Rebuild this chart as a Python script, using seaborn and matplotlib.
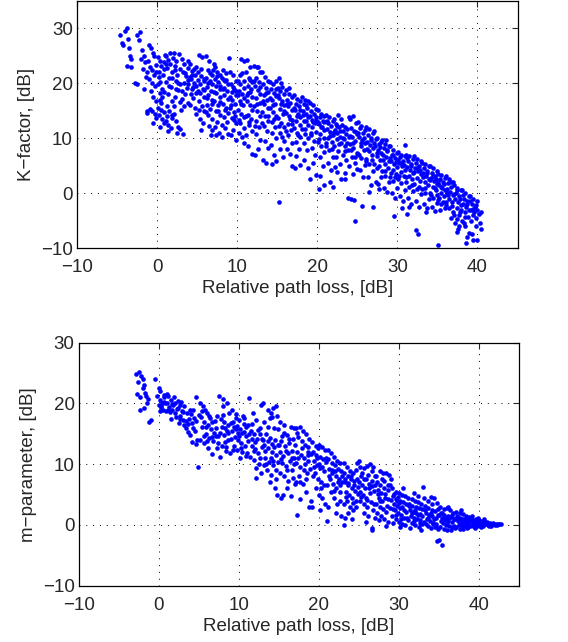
import matplotlib
matplotlib.use("Agg")
import matplotlib.pyplot as plt
import seaborn as sns

# K-factor vs relative path loss (x, y)
kfactor_pts = [
    (-4.6, 28.8), (-4.4, 27.4), (-4.2, 27.0), (-4.0, 29.5), (-3.8, 30.1), (-3.6, 28.0), (-3.5, 26.5), (-3.4, 25.0),
    (-3.7, 23.1), (-3.3, 24.5), (-3.2, 22.9), (-2.8, 20.0), (-2.5, 19.8), (-2.5, 28.9), (-2.1, 29.3), (-2.2, 27.9),
    (-1.9, 26.0), (-1.6, 25.0), (-2.0, 24.5), (-1.5, 23.8), (-1.2, 22.0), (-1.3, 15.0), (-1.2, 14.6), (-1.8, 22.6),
    (-1.0, 27.0), (-0.8, 26.5), (-0.5, 25.6), (-1.1, 24.0), (-0.9, 23.0), (-0.6, 22.4), (-0.4, 21.5), (-1.0, 20.8),
    (-0.7, 20.0), (-0.3, 19.5), (-0.8, 18.6), (-0.5, 17.5), (-0.2, 16.8), (-0.9, 15.3), (-0.6, 15.0), (-0.3, 14.5),
    (-0.1, 13.7), (-0.5, 12.8), (-1.4, 21.2), (-1.6, 19.0), (-0.2, 23.3), (-0.1, 22.0), (-0.4, 25.0),
    (0.1, 24.8), (0.3, 24.0), (0.5, 23.2), (0.2, 22.0), (0.7, 21.5), (0.4, 20.3), (0.1, 19.8), (0.6, 19.0),
    (0.9, 18.5), (0.3, 17.0), (0.1, 15.5), (0.5, 15.2), (0.8, 14.8), (0.2, 14.2), (0.6, 13.5), (0.9, 12.7),
    (0.4, 12.0), (0.8, 22.7), (0.95, 25.2), (0.35, 18.2),
    (1.1, 25.0), (1.3, 24.3), (1.6, 23.5), (1.2, 22.8), (1.8, 22.0), (1.5, 21.0), (1.1, 20.2), (1.7, 19.3),
    (1.4, 18.0), (1.9, 16.8), (1.2, 15.8), (1.5, 15.0), (1.8, 14.3), (1.1, 13.2), (1.4, 12.5), (1.7, 11.9),
    (1.3, 11.3), (1.9, 13.6), (1.6, 25.6), (1.95, 24.6),
    (2.1, 25.5), (2.4, 24.0), (2.7, 25.3), (2.2, 23.2), (2.8, 22.6), (2.5, 21.6), (2.3, 20.5), (2.9, 19.8),
    (2.6, 18.8), (2.2, 17.5), (2.8, 16.6), (2.1, 14.5), (2.4, 13.2), (2.6, 12.0), (2.5, 11.0), (2.9, 11.6),
    (2.3, 19.0),
    (3.1, 24.5), (3.4, 23.6), (3.8, 24.0), (3.2, 22.0), (3.6, 21.3), (3.9, 20.6), (3.3, 20.0), (3.7, 19.2),
    (3.5, 18.0), (3.1, 17.1), (3.8, 16.5), (3.4, 15.8), (3.2, 10.7), (3.9, 22.8), (3.0, 15.2),
    (4.1, 23.5), (4.4, 22.2), (4.7, 21.5), (4.2, 20.8), (4.6, 20.0), (4.9, 19.5), (4.3, 19.0), (4.8, 18.2),
    (4.5, 17.3), (4.1, 16.0), (4.7, 15.6), (4.9, 14.4), (4.4, 21.6), (4.8, 23.0),
    (5.2, 25.1), (5.6, 24.8), (5.1, 22.0), (5.5, 21.3), (5.8, 20.5), (5.3, 19.8), (5.7, 19.0), (5.4, 18.3),
    (5.9, 17.5), (5.2, 16.8), (5.6, 15.8), (5.9, 14.9), (5.3, 13.5), (5.7, 12.8), (5.5, 11.5), (5.8, 20.8),
    (5.1, 18.6),
    (6.1, 24.9), (6.5, 24.0), (6.3, 22.4), (6.8, 21.6), (6.1, 21.0), (6.6, 20.5), (6.9, 19.8), (6.2, 19.3),
    (6.7, 18.6), (6.4, 17.8), (6.9, 17.0), (6.2, 16.0), (6.6, 15.3), (6.3, 14.2), (6.8, 13.5), (6.5, 12.3),
    (6.9, 11.5), (6.7, 10.5), (6.4, 20.0), (6.95, 22.5),
    (7.1, 23.5), (7.5, 22.0), (7.9, 21.5), (7.2, 20.8), (7.6, 20.2), (7.3, 19.5), (7.8, 18.9), (7.4, 18.2),
    (7.9, 17.6), (7.1, 16.8), (7.6, 16.0), (7.3, 15.0), (7.8, 14.2), (7.5, 13.0), (7.2, 12.0), (7.7, 11.0),
    (7.4, 10.6), (7.9, 19.6),
    (8.2, 22.5), (8.6, 21.8), (8.1, 21.0), (8.5, 20.4), (8.9, 19.9), (8.3, 19.2), (8.7, 18.6), (8.4, 17.8),
    (8.8, 17.1), (8.2, 16.3), (8.6, 15.5), (8.9, 14.6), (8.3, 13.8), (8.7, 12.9), (8.5, 11.8), (8.8, 10.8),
    (8.1, 10.2), (8.95, 24.6), (8.4, 20.6),
    (9.1, 22.0), (9.5, 21.5), (9.8, 20.5), (9.2, 19.8), (9.6, 19.0), (9.3, 18.4), (9.9, 17.8), (9.4, 17.0),
    (9.7, 16.2), (9.1, 15.5), (9.6, 14.7), (9.3, 13.6), (9.8, 12.8), (9.5, 11.5), (9.2, 10.5), (9.9, 9.7),
    (9.7, 14.0),
    (10.1, 20.5), (10.4, 19.8), (10.8, 19.2), (10.2, 18.6), (10.6, 18.0), (10.9, 17.4), (10.3, 16.8), (10.7, 16.0),
    (10.1, 15.2), (10.5, 14.5), (10.9, 13.8), (10.4, 12.7), (10.8, 11.8), (10.2, 11.0), (10.6, 10.2), (10.9, 9.2),
    (10.5, 24.5), (10.9, 24.0), (10.3, 21.5),
    (11.2, 24.2), (11.6, 23.0), (11.1, 22.0), (11.5, 21.0), (11.8, 20.2), (11.3, 19.6), (11.7, 19.0), (11.4, 18.2),
    (11.9, 17.5), (11.2, 16.8), (11.6, 16.0), (11.9, 15.2), (11.3, 14.3), (11.7, 13.5), (11.5, 12.5), (11.8, 11.4),
    (11.1, 10.5), (11.4, 8.5), (11.9, 7.2), (11.6, 20.6),
    (12.1, 23.2), (12.5, 22.9), (12.8, 22.1), (12.3, 21.0), (12.7, 20.3), (12.2, 19.5), (12.6, 18.8), (12.9, 18.0),
    (12.4, 17.3), (12.8, 16.5), (12.1, 15.8), (12.5, 15.0), (12.9, 14.1), (12.3, 13.2), (12.7, 12.0), (12.4, 10.8),
    (12.8, 9.6), (12.2, 7.0), (12.6, 8.0),
    (13.1, 22.0), (13.5, 21.2), (13.8, 20.5), (13.2, 19.8), (13.6, 19.1), (13.9, 18.5), (13.3, 17.8), (13.7, 17.0),
    (13.4, 16.2), (13.8, 15.5), (13.1, 14.8), (13.5, 14.0), (13.9, 13.2), (13.3, 12.2), (13.7, 11.3), (13.5, 9.5),
    (13.2, 6.0), (13.9, 8.3), (13.6, 5.5),
    (14.1, 20.2), (14.5, 19.8), (14.8, 20.4), (14.2, 19.0), (14.6, 18.3), (14.9, 17.7), (14.3, 17.0), (14.7, 16.2),
    (14.1, 15.5), (14.5, 14.8), (14.9, 14.0), (14.3, 13.0), (14.7, 12.1), (14.4, 11.0), (14.8, 10.0), (14.2, 8.8),
    (14.6, 7.0), (14.4, 5.3), (14.9, 5.8),
    (15.2, 21.0), (15.5, 20.0), (15.1, 19.2), (15.4, 18.6), (15.8, 18.0), (15.2, 17.3), (15.6, 16.7), (15.9, 16.0),
    (15.3, 15.3), (15.7, 14.5), (15.1, 13.6), (15.5, 12.8), (15.9, 12.0), (15.4, 11.0), (15.8, 9.5), (15.3, 8.0),
    (15.7, 6.5), (15.2, -1.7), (15.6, 10.2),
    (16.1, 18.8), (16.5, 18.0), (16.9, 17.5), (16.2, 17.0), (16.6, 16.5), (16.3, 15.8), (16.8, 15.2), (16.1, 14.6),
    (16.5, 14.0), (16.9, 13.4), (16.3, 12.6), (16.7, 11.5), (16.4, 10.5), (16.8, 9.2), (16.2, 8.0), (16.6, 7.1),
    (16.9, 5.0),
    (17.1, 17.8), (17.5, 17.2), (17.9, 16.8), (17.3, 16.3), (17.7, 15.8), (17.2, 15.1), (17.6, 14.5), (17.9, 13.9),
    (17.4, 13.2), (17.8, 12.5), (17.1, 11.8), (17.5, 11.0), (17.9, 10.2), (17.3, 9.3), (17.7, 8.0), (17.4, 6.8),
    (17.8, 5.2), (17.2, 4.5),
    (18.1, 17.5), (18.5, 17.0), (18.9, 16.8), (18.3, 16.2), (18.7, 15.6), (18.2, 15.0), (18.6, 14.5), (18.9, 13.8),
    (18.4, 13.2), (18.8, 12.4), (18.1, 11.7), (18.5, 10.8), (18.9, 10.0), (18.3, 9.1), (18.7, 7.8), (18.4, 6.0),
    (18.9, 4.5), (18.6, 16.0),
    (19.1, 16.5), (19.5, 16.0), (19.8, 15.4), (19.2, 15.0), (19.6, 14.4), (19.9, 13.9), (19.3, 13.3), (19.7, 12.7),
    (19.4, 12.0), (19.8, 11.2), (19.2, 10.5), (19.6, 9.5), (19.3, 8.2), (19.7, 7.0), (19.5, 5.5), (19.9, 3.3),
    (19.1, 2.5),
    (20.1, 15.2), (20.5, 14.5), (20.9, 14.1), (20.3, 13.8), (20.7, 13.2), (20.2, 12.6), (20.6, 12.0), (20.9, 11.5),
    (20.4, 10.8), (20.8, 10.0), (20.1, 9.3), (20.5, 8.5), (20.9, 7.5), (20.3, 6.5), (20.7, 5.0), (20.4, 3.2),
    (20.8, 1.5), (20.2, 0.7),
    (21.1, 14.2), (21.5, 13.8), (21.9, 13.2), (21.3, 12.8), (21.7, 12.3), (21.2, 11.7), (21.6, 11.2), (21.9, 10.6),
    (21.4, 10.0), (21.8, 9.3), (21.1, 8.6), (21.5, 7.8), (21.9, 6.5), (21.3, 5.5), (21.7, 4.2), (21.6, 2.0),
    (21.9, 1.2),
    (22.1, 13.5), (22.6, 14.3), (22.9, 13.5), (22.3, 12.6), (22.7, 12.0), (22.2, 11.5), (22.5, 10.9), (22.8, 10.3),
    (22.4, 9.8), (22.9, 9.1), (22.1, 8.5), (22.6, 7.7), (22.3, 6.5), (22.8, 5.3), (22.5, 3.8), (22.9, 2.5),
    (22.2, 4.7),
    (23.1, 12.5), (23.5, 12.0), (23.9, 13.8), (23.2, 11.4), (23.6, 10.8), (23.9, 10.3), (23.3, 9.8), (23.7, 9.2),
    (23.4, 8.5), (23.8, 7.8), (23.2, 7.0), (23.6, 6.0), (23.9, 5.0), (23.4, 3.7), (23.8, -0.8), (23.5, 2.5),
    (24.1, 13.5), (24.4, 14.0), (24.8, 12.8), (24.2, 11.9), (24.6, 11.3), (24.9, 10.7), (24.3, 10.2), (24.7, 9.5),
    (24.1, 8.9), (24.5, 8.2), (24.9, 7.4), (24.3, 6.5), (24.7, 5.5), (24.5, 3.5), (24.2, -1.0), (24.6, -1.2),
    (24.7, -5.0), (24.9, 4.4),
    (25.1, 13.0), (25.5, 12.2), (25.9, 11.5), (25.3, 11.8), (25.7, 10.9), (25.2, 10.3), (25.6, 9.7), (25.9, 9.1),
    (25.4, 8.6), (25.8, 7.9), (25.1, 7.2), (25.5, 6.4), (25.9, 5.2), (25.3, 4.2), (25.7, 3.0), (25.6, -2.3),
    (26.1, 12.0), (26.5, 11.6), (26.9, 11.0), (26.3, 10.5), (26.7, 10.0), (26.2, 9.4), (26.6, 8.8), (26.9, 8.2),
    (26.4, 7.7), (26.8, 7.0), (26.1, 6.2), (26.5, 5.3), (26.9, 4.0), (26.3, 3.0), (26.7, 1.5), (26.4, 0.2),
    (26.9, -2.5),
    (27.1, 11.3), (27.5, 10.0), (27.9, 9.4), (27.3, 9.8), (27.7, 9.0), (27.2, 8.5), (27.6, 7.9), (27.9, 7.3),
    (27.4, 6.8), (27.8, 6.0), (27.1, 5.3), (27.5, 4.5), (27.9, 3.0), (27.3, 2.0), (27.7, 0.8), (27.6, 1.6),
    (28.1, 9.6), (28.5, 9.0), (28.9, 8.5), (28.3, 8.2), (28.7, 7.6), (28.2, 7.0), (28.6, 6.5), (28.9, 5.9),
    (28.4, 5.3), (28.8, 4.6), (28.1, 4.0), (28.5, 3.2), (28.9, 2.0), (28.3, 1.0), (28.7, 0.2), (28.6, 9.7),
    (29.1, 8.5), (29.5, 7.8), (29.9, 7.3), (29.3, 7.0), (29.7, 6.4), (29.2, 5.8), (29.6, 5.3), (29.9, 4.7),
    (29.4, 4.2), (29.8, 3.5), (29.1, 3.0), (29.5, 2.2), (29.9, 1.0), (29.3, 0.0), (29.7, -0.8), (29.6, -4.2),
    (30.1, 7.5), (30.5, 7.0), (30.9, 6.8), (30.3, 6.5), (30.7, 5.9), (30.2, 5.4), (30.6, 4.9), (30.9, 4.3),
    (30.4, 3.8), (30.8, 3.2), (30.1, 2.6), (30.5, 1.8), (30.9, 0.5), (30.3, -0.5), (30.7, -1.5), (30.6, -2.8),
    (30.9, 8.8),
    (31.1, 7.0), (31.5, 6.7), (31.9, 6.2), (31.3, 5.9), (31.7, 5.3), (31.2, 4.8), (31.6, 4.3), (31.9, 3.7),
    (31.4, 3.2), (31.8, 2.6), (31.1, 2.0), (31.5, 1.2), (31.9, 0.3), (31.3, -0.8), (31.7, -2.0), (31.2, -3.8),
    (31.5, -2.5),
    (32.1, 6.8), (32.5, 6.3), (32.9, 5.9), (32.3, 5.5), (32.7, 5.0), (32.2, 4.5), (32.6, 4.0), (32.9, 3.4),
    (32.4, 2.8), (32.8, 2.2), (32.1, 1.6), (32.5, 0.8), (32.9, -0.2), (32.3, -1.5), (32.7, -2.5), (32.3, -6.8),
    (32.6, -7.5),
    (33.1, 5.5), (33.5, 5.3), (33.9, 5.0), (33.3, 4.6), (33.7, 4.1), (33.2, 3.6), (33.6, 3.1), (33.9, 2.6),
    (33.4, 2.0), (33.8, 1.4), (33.1, 0.8), (33.5, 0.0), (33.9, -1.0), (33.3, -2.0), (33.7, -2.8), (33.6, -3.5),
    (34.1, 5.0), (34.5, 4.5), (34.9, 4.0), (34.3, 3.7), (34.7, 3.2), (34.2, 2.7), (34.6, 2.2), (34.9, 1.7),
    (34.4, 1.2), (34.8, 0.6), (34.1, 0.0), (34.5, -0.8), (34.9, -1.8), (34.3, -2.5), (34.7, -3.2), (34.9, -0.3),
    (35.1, 3.5), (35.5, 3.3), (35.9, 2.8), (35.3, 2.5), (35.7, 2.0), (35.2, 1.5), (35.6, 1.0), (35.9, 0.5),
    (35.4, 0.0), (35.8, -0.6), (35.1, -1.2), (35.5, -2.0), (35.9, -2.7), (35.3, -3.0), (35.1, -9.4), (35.7, -1.6),
    (36.1, 3.2), (36.5, 2.5), (36.9, 2.0), (36.3, 1.8), (36.7, 1.2), (36.2, 0.8), (36.6, 0.2), (36.9, -0.4),
    (36.4, -1.0), (36.8, -1.6), (36.1, -2.2), (36.5, -2.8), (36.9, -3.5), (36.7, -4.5), (36.3, -0.3),
    (37.1, 1.5), (37.5, 1.0), (37.9, 0.5), (37.3, 0.0), (37.7, -0.5), (37.2, -1.0), (37.6, -1.6), (37.9, -2.2),
    (37.4, -2.8), (37.8, -3.4), (37.1, -4.0), (37.5, -4.8), (37.2, -5.5), (37.7, -6.0), (37.4, -7.0), (37.6, -6.5),
    (37.9, -3.0),
    (38.1, 0.5), (38.5, 0.0), (38.9, -0.5), (38.3, -1.0), (38.7, -1.5), (38.2, -2.0), (38.6, -2.5), (38.9, -3.0),
    (38.4, -3.5), (38.8, -4.3), (38.1, -5.0), (38.5, -6.0), (38.9, -7.3), (38.7, -8.0), (38.6, -9.0), (38.3, -5.5),
    (39.1, -0.5), (39.5, -1.0), (39.9, -1.5), (39.3, -2.0), (39.7, -2.5), (39.2, -3.0), (39.6, -3.5), (40.0, -3.0),
    (39.4, -4.0), (39.8, -4.5), (40.2, -3.8), (40.5, -3.4), (40.3, -5.5), (40.4, -6.5), (39.5, -8.5), (39.9, -8.6),
    (39.3, -7.5), (39.8, -6.0),
    # denser core of the band
    (0.25, 21.2), (0.65, 17.6), (1.05, 23.6), (1.45, 19.6), (1.85, 20.9), (2.25, 22.4), (2.65, 20.1), (3.05, 18.6),
    (3.45, 21.9), (3.85, 19.9), (4.25, 18.1), (4.65, 22.7), (0.45, 16.4), (1.25, 14.1), (2.05, 15.9), (0.85, 23.9),
    (4.05, 21.1), (4.45, 19.4),
    (5.05, 20.6), (5.45, 22.6), (5.85, 18.8), (6.25, 17.4), (6.65, 21.9), (7.05, 18.4), (7.45, 21.3), (7.85, 16.6),
    (8.25, 18.9), (8.65, 20.6), (9.05, 17.5), (9.45, 19.4), (9.85, 18.6), (5.25, 15.1), (6.05, 14.8), (6.85, 16.3),
    (7.65, 14.9), (8.45, 15.1), (9.25, 16.1), (9.65, 13.3), (8.05, 12.4), (7.25, 22.9),
    (10.05, 17.9), (10.45, 16.2), (10.85, 20.4), (11.25, 17.9), (11.65, 18.4), (12.05, 20.5), (12.45, 16.3),
    (12.85, 19.4), (13.25, 16.7), (13.65, 18.2), (14.05, 17.4), (14.45, 16.1), (14.85, 18.9), (10.25, 13.4),
    (11.05, 14.0), (11.45, 12.9), (12.25, 12.2), (13.05, 12.8), (13.85, 14.1), (14.65, 13.5), (10.65, 21.9),
    (12.65, 23.0),
    (15.05, 17.9), (15.45, 16.2), (15.85, 14.9), (16.25, 16.2), (16.65, 13.5), (17.05, 15.6), (17.45, 14.1),
    (17.85, 15.1), (18.25, 14.3), (18.65, 13.1), (19.05, 14.1), (19.45, 12.9), (19.85, 13.4), (15.25, 12.3),
    (16.05, 11.4), (16.85, 12.6), (17.65, 10.6), (18.45, 11.6), (19.25, 10.9), (15.65, 19.4), (16.45, 19.1),
    (20.05, 12.9), (20.45, 12.1), (20.85, 12.9), (21.25, 13.1), (21.65, 10.4), (22.05, 11.1), (22.45, 12.2),
    (22.85, 11.4), (23.25, 10.1), (23.65, 11.6), (24.05, 10.4), (24.45, 9.1), (24.85, 11.1), (20.25, 9.9),
    (21.05, 9.1), (21.85, 8.1), (22.65, 8.9), (23.45, 7.6), (24.25, 7.9), (24.65, 6.6),
    (25.05, 10.9), (25.45, 9.1), (25.85, 10.1), (26.25, 8.1), (26.65, 9.6), (27.05, 9.1), (27.45, 7.4), (27.85, 8.4),
    (28.25, 6.1), (28.65, 7.9), (29.05, 6.4), (29.45, 6.9), (29.85, 5.6), (25.25, 6.9), (26.05, 5.9), (26.85, 6.1),
    (27.65, 4.9), (28.45, 4.1), (29.25, 3.6), (29.65, 2.9),
    (30.05, 6.1), (30.45, 5.4), (30.85, 5.1), (31.25, 6.4), (31.65, 4.9), (32.05, 3.9), (32.45, 4.6), (32.85, 4.3),
    (33.25, 2.9), (33.65, 3.6), (34.05, 2.4), (34.45, 3.1), (34.85, 2.6), (30.25, 3.1), (31.05, 2.9), (31.85, 1.4),
    (32.65, 1.1), (33.45, 0.9), (34.25, -0.4), (34.65, 0.9),
    (35.05, 2.1), (35.45, 1.1), (35.85, 1.6), (36.25, 0.1), (36.65, 2.1), (37.05, -0.1), (37.45, 0.6), (37.85, -1.1),
    (38.25, -0.4), (38.65, -1.9), (39.05, -1.4), (39.45, -2.9), (39.85, -2.1), (35.25, -0.9), (36.05, -1.6),
    (36.85, -2.4), (37.65, -3.9), (38.45, -4.4), (39.25, -5.1),
]

# m-parameter vs relative path loss (x, y)
mparam_pts = [
    (-2.8, 24.8), (-2.5, 25.1), (-2.2, 24.6), (-2.0, 24.0), (-2.6, 23.5), (-2.7, 21.6), (-2.3, 21.0), (-2.0, 22.5),
    (-1.8, 23.0), (-1.6, 21.2), (-1.5, 20.0), (-1.9, 19.2), (-2.3, 19.0), (-1.2, 17.0), (-1.0, 17.2), (-1.7, 21.8),
    (-0.5, 24.0), (-1.4, 20.8),
    (0.0, 22.6), (0.1, 22.0), (-0.2, 21.2), (0.2, 20.6), (0.4, 20.1), (0.0, 19.8), (0.3, 19.4), (0.6, 20.3),
    (0.8, 20.0), (0.5, 19.0), (0.9, 18.8), (0.2, 18.7), (0.7, 21.4), (1.0, 21.5),
    (1.2, 21.2), (1.5, 20.5), (1.8, 19.8), (1.3, 19.4), (1.7, 18.9), (2.0, 18.5), (2.4, 19.3), (2.8, 20.3),
    (2.2, 17.8), (2.6, 18.0), (1.5, 17.5), (2.9, 18.7), (2.5, 16.8), (2.0, 20.0), (1.1, 19.0), (2.7, 19.8),
    (3.2, 19.5), (3.5, 18.4), (3.8, 17.5), (3.1, 16.5), (3.4, 16.0), (3.7, 15.3), (4.0, 18.2), (4.3, 19.0),
    (4.6, 21.0), (4.2, 16.8), (4.5, 15.5), (4.8, 14.0), (4.1, 13.6), (4.7, 13.3), (4.9, 9.5), (3.9, 14.8),
    (3.0, 17.2), (4.4, 17.6),
    (5.2, 20.1), (5.5, 19.5), (5.8, 19.0), (6.0, 18.5), (5.3, 17.8), (5.7, 17.0), (6.2, 16.5), (6.5, 15.8),
    (5.9, 15.0), (6.3, 14.3), (6.8, 13.8), (5.6, 13.5), (6.1, 12.7), (6.6, 11.6), (6.9, 15.2), (5.4, 16.2),
    (6.4, 17.6), (6.7, 14.4), (5.1, 14.0),
    (7.5, 21.2), (8.0, 20.8), (8.5, 20.0), (7.3, 18.0), (7.8, 17.5), (8.2, 17.0), (8.7, 16.5), (7.2, 16.0),
    (7.6, 15.2), (8.1, 14.8), (8.6, 14.0), (7.4, 13.5), (7.9, 13.0), (8.4, 12.2), (8.9, 11.8), (7.7, 11.2),
    (8.3, 16.0), (8.8, 18.5), (8.0, 19.5), (8.5, 15.5), (7.1, 14.6),
    (9.2, 19.0), (9.6, 18.3), (10.0, 17.2), (10.5, 18.0), (9.3, 17.0), (9.8, 16.3), (10.2, 15.8), (10.7, 15.3),
    (9.1, 15.5), (9.5, 14.5), (9.9, 14.0), (10.3, 13.5), (10.8, 13.0), (9.4, 13.0), (9.8, 12.3), (10.4, 12.0),
    (10.9, 11.4), (10.1, 11.0), (9.6, 15.8), (10.6, 16.6), (10.9, 14.7), (9.0, 16.7),
    (11.3, 20.9), (11.8, 18.5), (12.2, 17.3), (12.8, 19.8), (13.0, 20.0), (11.1, 16.5), (11.5, 15.5), (11.9, 15.0),
    (12.3, 14.2), (12.7, 16.0), (11.2, 13.8), (11.6, 13.0), (12.0, 12.5), (12.4, 11.8), (12.9, 12.8), (11.4, 11.2),
    (11.9, 10.7), (12.5, 10.0), (12.1, 9.3), (12.2, 7.7), (12.8, 8.5), (11.7, 14.2), (12.6, 15.0), (13.0, 14.0),
    (13.6, 19.0), (14.0, 18.5), (14.3, 19.2), (14.6, 19.5), (14.2, 17.8), (14.8, 18.0), (13.2, 17.0), (13.7, 16.2),
    (14.4, 16.0), (14.9, 15.8), (13.4, 15.0), (13.9, 14.3), (14.5, 14.0), (13.1, 13.2), (13.6, 12.6), (14.1, 12.0),
    (14.7, 11.5), (13.3, 11.0), (13.8, 10.3), (14.3, 9.8), (14.9, 10.4), (13.5, 9.0), (14.0, 8.2), (14.6, 7.5),
    (13.9, 7.0), (14.5, 6.0), (14.8, 5.0), (14.2, 13.3), (13.1, 9.8),
    (15.2, 17.0), (15.6, 15.2), (16.0, 14.8), (16.5, 16.2), (16.9, 16.0), (15.3, 13.8), (15.8, 13.0), (16.3, 13.5),
    (16.8, 14.2), (15.1, 12.0), (15.5, 11.4), (16.1, 11.8), (16.6, 12.2), (15.4, 10.2), (15.9, 9.7), (16.4, 10.5),
    (16.9, 11.0), (15.2, 8.5), (15.7, 8.0), (16.2, 7.2), (16.7, 9.0), (15.5, 5.0), (16.0, 6.0), (16.5, 4.8),
    (17.0, 6.8), (15.3, 4.5), (17.3, 1.6), (16.8, 7.8),
    (17.2, 16.0), (17.6, 16.2), (18.0, 15.5), (18.4, 15.0), (18.8, 14.2), (17.4, 14.5), (17.9, 13.8), (18.3, 13.2),
    (18.7, 12.8), (17.3, 12.0), (17.8, 11.5), (18.2, 11.0), (18.6, 11.5), (17.1, 10.2), (17.6, 9.6), (18.1, 9.0),
    (18.5, 8.5), (18.9, 9.2), (17.5, 8.0), (18.0, 6.7), (18.4, 5.5), (17.7, 4.3), (18.8, 3.0), (17.2, 7.0),
    (18.6, 12.0), (19.0, 4.0),
    (19.2, 13.7), (19.6, 13.0), (20.0, 13.2), (20.4, 12.8), (20.8, 12.4), (19.3, 12.0), (19.7, 11.5), (20.1, 11.2),
    (20.5, 10.8), (20.9, 10.4), (19.4, 10.5), (19.8, 9.8), (20.2, 9.3), (20.6, 8.9), (19.5, 8.5), (19.9, 7.5),
    (20.3, 7.0), (20.7, 6.5), (19.6, 6.0), (20.0, 5.0), (20.4, 4.5), (20.8, 3.5), (19.1, 3.0), (21.0, 0.6),
    (20.2, 2.5), (19.8, 11.0),
    (21.1, 12.3), (21.5, 11.8), (21.9, 11.2), (22.3, 10.6), (22.7, 10.2), (21.2, 10.8), (21.6, 10.2), (22.0, 9.8),
    (22.4, 9.2), (22.8, 8.8), (21.3, 9.2), (21.7, 8.6), (22.1, 8.0), (22.5, 7.5), (22.9, 7.0), (21.4, 7.5),
    (21.8, 6.8), (22.2, 6.0), (22.6, 5.5), (21.5, 5.5), (21.9, 4.5), (22.3, 3.5), (22.7, 4.0), (21.2, 3.0),
    (22.1, 2.0), (22.8, 1.5), (23.2, 0.0), (23.3, 1.2),
    (23.1, 10.2), (23.5, 9.6), (23.9, 8.8), (24.3, 8.5), (24.8, 10.2), (25.0, 10.6), (23.2, 8.5), (23.6, 8.0),
    (24.0, 7.5), (24.4, 7.2), (24.8, 7.6), (23.3, 7.0), (23.7, 6.5), (24.1, 6.0), (24.5, 5.6), (24.9, 6.3),
    (23.4, 5.5), (23.8, 5.0), (24.2, 4.5), (24.6, 4.0), (23.5, 4.0), (23.9, 3.0), (24.3, 2.5), (24.7, 3.0),
    (23.6, 2.0), (24.1, 1.0), (23.2, 3.5),
    (25.2, 9.5), (25.6, 9.3), (26.0, 9.7), (26.4, 10.0), (26.8, 9.6), (25.3, 8.0), (25.7, 7.5), (26.2, 8.3),
    (26.6, 8.8), (27.0, 8.0), (25.4, 6.5), (25.8, 6.0), (26.3, 6.8), (26.7, 7.2), (25.1, 5.5), (25.5, 5.0),
    (25.9, 4.5), (26.4, 5.2), (26.9, 5.6), (25.2, 4.0), (25.6, 3.5), (26.0, 3.0), (26.5, 3.8), (26.8, 2.5),
    (25.7, 2.0), (26.2, 1.5), (25.9, 0.5), (26.7, -0.8), (26.6, -0.5), (27.0, 1.2),
    (27.2, 8.0), (27.6, 8.8), (28.0, 8.5), (28.4, 8.6), (28.8, 8.3), (29.0, 7.5), (27.3, 7.0), (27.7, 6.6),
    (28.1, 7.3), (28.9, 6.5), (27.4, 5.8), (27.8, 5.3), (28.2, 6.0), (28.6, 5.7), (27.5, 4.5), (27.9, 4.0),
    (28.3, 4.5), (28.7, 4.2), (27.1, 3.5), (27.6, 3.0), (28.0, 2.6), (28.5, 3.2), (28.9, 2.8), (27.3, 2.0),
    (27.8, 1.5), (28.2, 1.0), (28.7, 0.5), (27.5, 0.8), (28.4, -0.1),
    (29.2, 6.0), (29.6, 5.5), (30.0, 5.2), (30.4, 5.0), (30.8, 4.8), (29.3, 4.8), (29.7, 4.3), (30.1, 4.0),
    (30.5, 3.8), (30.9, 3.5), (29.4, 3.5), (29.8, 3.2), (30.2, 2.8), (30.6, 2.5), (29.5, 2.4), (29.9, 2.0),
    (30.3, 1.6), (30.7, 1.2), (29.1, 1.5), (29.6, 1.0), (30.0, 0.5), (30.4, 0.2), (30.8, 0.0), (29.3, 0.3),
    (30.1, -0.3), (29.8, 3.9), (30.5, 6.0),
    (31.2, 4.5), (31.6, 4.2), (32.0, 4.0), (32.4, 3.8), (32.8, 3.5), (33.0, 6.2), (31.3, 3.5), (31.7, 3.2),
    (32.1, 3.0), (32.5, 2.8), (32.9, 2.6), (31.4, 2.5), (31.8, 2.2), (32.2, 2.0), (32.6, 1.8), (31.5, 1.5),
    (31.9, 1.2), (32.3, 1.0), (32.7, 0.8), (31.1, 0.8), (31.6, 0.4), (32.0, 0.0), (32.5, -0.3), (32.9, 0.2),
    (31.4, -0.5), (32.8, -0.8), (32.4, 4.8), (31.9, 5.2),
    (33.2, 4.5), (33.6, 4.0), (34.0, 4.6), (34.4, 4.5), (34.8, 3.6), (33.3, 3.2), (33.7, 2.8), (34.1, 2.5),
    (34.5, 2.3), (34.9, 2.6), (33.4, 2.0), (33.8, 1.6), (34.2, 1.4), (34.6, 1.2), (33.5, 1.0), (33.9, 0.6),
    (34.3, 0.4), (34.7, 0.2), (33.1, 0.5), (33.6, -0.2), (34.0, -0.5), (34.5, -0.4), (34.9, -0.7), (34.8, -2.6),
    (35.0, -2.4), (35.4, -3.3), (34.2, 3.4),
    (35.2, 3.0), (35.6, 2.6), (36.0, 2.8), (36.4, 2.4), (36.8, 2.0), (35.3, 2.0), (35.7, 1.7), (36.1, 1.5),
    (36.5, 1.3), (36.9, 1.0), (35.4, 1.2), (35.8, 0.8), (36.2, 0.6), (36.6, 0.5), (35.5, 0.3), (35.9, 0.0),
    (36.3, -0.2), (36.7, -0.3), (35.1, -0.3), (35.6, -0.6), (36.0, -0.8), (36.5, -0.9), (37.0, -0.5), (36.2, 3.0),
    (37.2, 2.2), (37.6, 2.0), (38.0, 1.8), (38.4, 1.5), (38.8, 1.3), (37.3, 1.5), (37.7, 1.2), (38.1, 1.0),
    (38.5, 0.9), (38.9, 0.8), (37.4, 0.7), (37.8, 0.5), (38.2, 0.4), (38.6, 0.3), (37.5, 0.0), (37.9, -0.2),
    (38.3, -0.1), (38.7, -0.3), (37.1, -0.4), (37.6, -0.7), (38.0, -0.6), (38.5, -0.5), (38.9, -0.2), (37.8, 2.5),
    (39.2, 1.0), (39.6, 0.9), (40.0, 0.8), (40.4, 0.6), (40.8, 0.5), (39.3, 0.5), (39.7, 0.4), (40.1, 0.3),
    (40.5, 0.3), (40.9, 0.2), (39.4, 0.0), (39.8, -0.1), (40.2, -0.2), (40.6, -0.1), (41.0, 0.5), (41.4, 0.4),
    (41.8, 0.3), (42.2, 0.2), (42.6, 0.2), (41.2, 0.0), (41.6, -0.1), (42.0, 0.0), (42.4, 0.1), (42.8, 0.2),
    (39.5, -0.5), (40.3, -0.4), (41.3, -0.2), (39.1, 1.4), (39.9, 1.2), (40.7, 1.0),
    # denser core of the band
    (0.25, 19.6), (0.65, 21.1), (1.05, 20.1), (1.45, 18.6), (1.85, 21.0), (2.25, 19.1), (2.65, 17.4), (3.05, 18.6),
    (3.45, 17.1), (3.85, 18.9), (4.25, 15.9), (4.65, 17.1), (1.65, 19.9), (2.45, 20.4), (3.65, 16.6),
    (5.05, 18.1), (5.45, 18.7), (5.85, 16.1), (6.25, 17.9), (6.65, 16.9), (7.05, 17.1), (7.45, 14.6), (7.85, 16.1),
    (8.25, 13.6), (8.65, 15.1), (9.05, 14.1), (9.45, 16.1), (9.85, 15.1), (6.05, 13.9), (7.25, 12.6), (8.45, 12.9),
    (9.25, 12.4), (5.65, 14.6), (8.05, 18.1), (9.65, 17.6),
    (10.05, 14.6), (10.45, 15.1), (10.85, 16.1), (11.25, 14.9), (11.65, 16.6), (12.05, 13.6), (12.45, 15.6),
    (12.85, 14.1), (13.25, 12.1), (13.65, 13.9), (14.05, 11.1), (14.45, 12.9), (14.85, 13.1), (10.25, 12.6),
    (11.05, 11.9), (11.85, 12.1), (12.65, 11.1), (13.45, 10.1), (14.25, 10.6), (14.65, 9.1), (10.65, 17.6),
    (13.85, 17.6),
    (15.05, 13.1), (15.45, 14.6), (15.85, 12.1), (16.25, 14.1), (16.65, 11.1), (17.05, 13.1), (17.45, 11.1),
    (17.85, 12.6), (18.25, 10.1), (18.65, 10.6), (19.05, 11.6), (19.45, 9.6), (19.85, 12.6), (15.25, 10.9),
    (16.05, 9.1), (16.85, 10.1), (17.65, 7.1), (18.45, 7.6), (19.25, 8.1), (15.65, 16.4), (17.25, 15.1),
    (20.05, 10.1), (20.45, 9.6), (20.85, 11.1), (21.25, 8.1), (21.65, 9.1), (22.05, 8.9), (22.45, 7.1), (22.85, 8.1),
    (23.25, 7.6), (23.65, 6.9), (24.05, 8.1), (24.45, 6.6), (24.85, 5.1), (20.25, 6.1), (21.05, 6.6), (21.85, 5.6),
    (22.65, 6.6), (23.45, 4.6), (24.25, 3.6), (24.65, 9.1),
    (25.05, 7.1), (25.45, 8.6), (25.85, 7.6), (26.25, 6.1), (26.65, 6.4), (27.05, 6.6), (27.45, 5.1), (27.85, 7.6),
    (28.25, 5.1), (28.65, 6.6), (29.05, 4.1), (29.45, 5.1), (29.85, 4.6), (25.25, 4.6), (26.05, 4.1), (26.85, 3.4),
    (27.65, 3.9), (28.45, 2.1), (29.25, 2.6), (29.65, 1.6),
    (30.05, 3.6), (30.45, 2.9), (30.85, 2.1), (31.25, 3.1), (31.65, 1.9), (32.05, 2.4), (32.45, 1.6), (32.85, 1.4),
    (33.25, 2.4), (33.65, 1.1), (34.05, 1.9), (34.45, 0.9), (34.85, 1.6), (30.25, 0.9), (31.05, 1.1), (31.85, 0.6),
    (32.65, 0.3), (33.45, 0.1), (34.25, 0.1), (34.65, -0.1),
    (35.05, 1.6), (35.45, 1.9), (35.85, 1.1), (36.25, 1.1), (36.65, 1.6), (37.05, 0.9), (37.45, 1.1), (37.85, 0.9),
    (38.25, 0.6), (38.65, 0.9), (39.05, 0.5), (39.45, 0.6), (39.85, 0.4), (40.25, 0.5), (40.65, 0.3), (41.05, 0.2),
    (41.45, 0.1), (41.85, 0.1), (42.25, 0.0), (35.25, 0.6), (36.05, 0.2), (36.85, -0.1), (37.65, 0.1), (38.45, 0.0),
    (39.25, -0.2),
]

x_ticks = [-10, 0, 10, 20, 30, 40]
y_ticks = [-10, 0, 10, 20, 30]
x_label = "Relative path loss, [dB]"
y_labels = ["K\u2212factor, [dB]", "m\u2212parameter, [dB]"]
y_limits = [(-10, 35), (-10, 30)]


def draw_panel(ax, pts, ylabel, ylim):
    xs = [p[0] for p in pts]
    ys = [p[1] for p in pts]
    sns.scatterplot(x=xs, y=ys, ax=ax, color="#0000ff", s=11, linewidth=0, marker="o")
    ax.set_xlim(-10, 45)
    ax.set_ylim(*ylim)
    ax.set_xticks(x_ticks)
    ax.set_yticks(y_ticks)
    ax.set_xlabel(x_label, labelpad=3)
    ax.set_ylabel(ylabel, labelpad=4)
    ax.grid(True, color="black", linestyle=(0, (1, 6)), linewidth=0.7)
    ax.tick_params(direction="in", top=True, right=True, length=4, width=0.8, pad=3)
    ax.tick_params(axis="x", pad=8)
    for sp in ax.spines.values():
        sp.set_color("black")
        sp.set_linewidth(0.9)


sns.set_style("white")
plt.rcParams["font.family"] = ["Liberation Sans", "DejaVu Sans"]
plt.rcParams["font.size"] = 13.5

fig = plt.figure(figsize=(5.68, 6.42), dpi=100)
ax1 = fig.add_axes([0.1356, 0.6137, 0.7755, 0.3847])
ax2 = fig.add_axes([0.1386, 0.0877, 0.7746, 0.3785])

draw_panel(ax1, kfactor_pts, y_labels[0], y_limits[0])
draw_panel(ax2, mparam_pts, y_labels[1], y_limits[1])

fig.savefig("out.png", dpi=100)
